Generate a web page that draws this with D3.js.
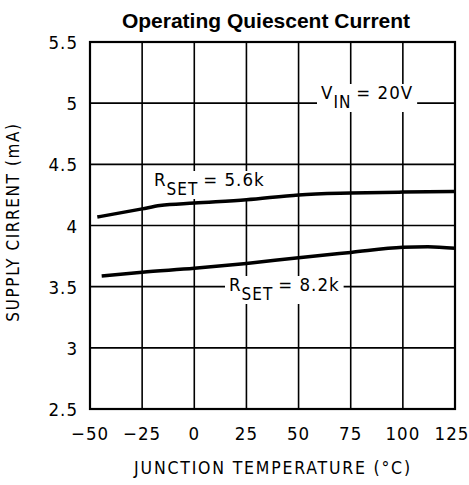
<!DOCTYPE html>
<html><head><meta charset="utf-8">
<script src="https://cdn.jsdelivr.net/npm/d3@7"></script>
<style>body{margin:0;background:#fff}</style>
</head><body>
<script>
const xTicks = [-50, -25, 0, 25, 50, 75, 100, 125];
const yTicks = [2.5, 3, 3.5, 4, 4.5, 5, 5.5];
const yTickLabels = ["2.5", "3", "3.5", "4", "4.5", "5", "5.5"];
const temp56 = [-46.5, -25, -16.5, 0, 25, 50, 75, 100, 125];
const curr56 = [4.069, 4.136, 4.163, 4.183, 4.21, 4.25, 4.265, 4.273, 4.278];
const temp82 = [-44.4, -25, 0, 25, 50, 75, 100, 112, 125];
const curr82 = [3.587, 3.618, 3.65, 3.69, 3.737, 3.78, 3.822, 3.827, 3.814];
const title = "Operating Quiescent Current";
const xLabel = "JUNCTION TEMPERATURE (\u00B0C)";
const yLabel = "SUPPLY CIRRENT (mA)";

const W = 469, H = 485;
const svg = d3.select("body").append("svg").attr("width", W).attr("height", H);
const x = d3.scaleLinear().domain([-50, 125]).range([90, 455]);
const y = d3.scaleLinear().domain([2.5, 5.5]).range([409, 42]);
const cad = "'DejaVu Sans Condensed', 'DejaVu Sans', sans-serif";

// grid
svg.append("g").selectAll("line").data(xTicks).join("line")
  .attr("x1", d => x(d)).attr("x2", d => x(d)).attr("y1", y(2.5)).attr("y2", y(5.5))
  .attr("stroke", "#000").attr("stroke-width", 1.6);
svg.append("g").selectAll("line").data(yTicks).join("line")
  .attr("y1", d => y(d)).attr("y2", d => y(d)).attr("x1", x(-50)).attr("x2", x(125))
  .attr("stroke", "#000").attr("stroke-width", 1.6);
svg.append("rect").attr("x", x(-50)).attr("y", y(5.5))
  .attr("width", x(125) - x(-50)).attr("height", y(2.5) - y(5.5))
  .attr("fill", "none").attr("stroke", "#000").attr("stroke-width", 2.2);

// tick labels
svg.append("g").selectAll("text").data(yTicks).join("text")
  .attr("x", 78).attr("y", d => y(d) + 7).attr("text-anchor", "end")
  .attr("font-family", cad).attr("font-size", 18.5).attr("letter-spacing", 1)
  .text((d, i) => yTickLabels[i]);
svg.append("g").selectAll("text").data(xTicks).join("text")
  .attr("x", d => d === 125 ? x(d) - 3 : x(d)).attr("y", 440).attr("text-anchor", "middle")
  .attr("font-family", cad).attr("font-size", 18.5).attr("letter-spacing", 1)
  .text(d => d < 0 ? "\u2212" + Math.abs(d) : String(d));

// annotation labels with white backgrounds
function label(xp, yp, main, sub, rest) {
  const g = svg.append("g");
  const bg = g.append("rect").attr("fill", "#fff");
  const t = g.append("text").attr("x", xp).attr("y", yp)
    .attr("font-family", cad).attr("font-size", 18.5).attr("letter-spacing", 1);
  t.append("tspan").text(main);
  t.append("tspan").attr("dy", 9).attr("font-size", 17).text(sub);
  t.append("tspan").attr("dy", -9).attr("dx", 5).text(rest);
  const b = t.node().getBBox();
  bg.attr("x", b.x - 4).attr("y", b.y + 2).attr("width", b.width + 8).attr("height", b.height - 2);
}
label(321, 99, "V", "IN", "= 20V");
label(154, 186, "R", "SET", "= 5.6k");
label(229, 291, "R", "SET", "= 8.2k");

// curves
const line = d3.line().x(d => x(d[0])).y(d => y(d[1])).curve(d3.curveMonotoneX);
svg.append("path").datum(d3.zip(temp56, curr56)).attr("d", line)
  .attr("fill", "none").attr("stroke", "#000").attr("stroke-width", 3.5);
svg.append("path").datum(d3.zip(temp82, curr82)).attr("d", line)
  .attr("fill", "none").attr("stroke", "#000").attr("stroke-width", 3.5);

// title & axis labels
svg.append("text").attr("x", 266).attr("y", 28).attr("text-anchor", "middle")
  .attr("font-family", "'Liberation Sans', Arial, sans-serif").attr("font-weight", "bold")
  .attr("font-size", 21).text(title);
svg.append("text").attr("x", 273).attr("y", 474).attr("text-anchor", "middle")
  .attr("font-family", cad).attr("font-size", 17.5).attr("letter-spacing", 1.8).text(xLabel);
svg.append("text").attr("transform", "translate(19,222) rotate(-90)").attr("text-anchor", "middle")
  .attr("font-family", cad).attr("font-size", 17).attr("letter-spacing", 1.6).text(yLabel);
</script>
</body></html>
